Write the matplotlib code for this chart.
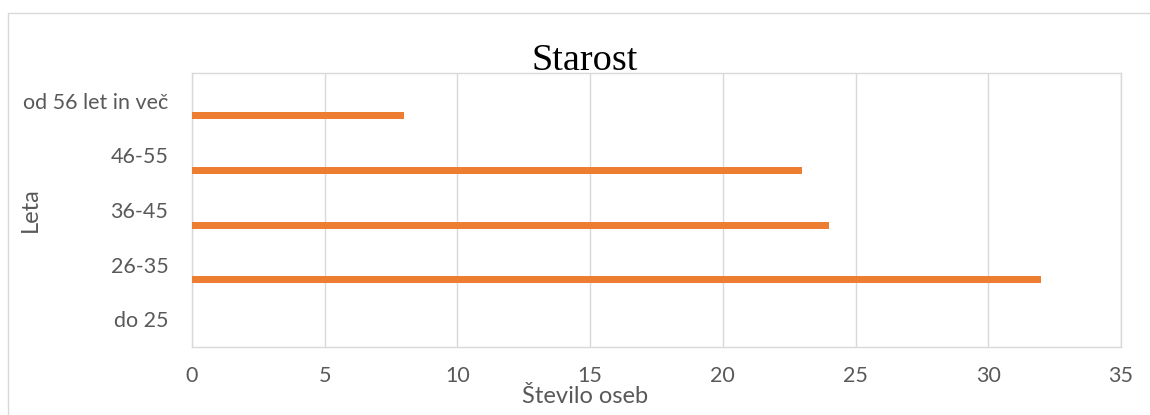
import matplotlib
matplotlib.use('Agg')
import matplotlib.pyplot as plt
import matplotlib.patches as patches
import numpy as np

# Data
categories = ['do 25', '26-35', '36-45', '46-55', 'od 56 let in več']
counts = [0, 32, 24, 23, 8]
xticks = [0, 5, 10, 15, 20, 25, 30, 35]

title = 'Starost'
xlabel = 'Število oseb'
ylabel = 'Leta'

# Colors (Excel defaults)
BAR_COLOR = '#ED7D31'
TEXT_COLOR = '#595959'
GRID_COLOR = '#D9D9D9'

W, H = 1150, 415

fig = plt.figure(figsize=(W / 100, H / 100), dpi=100)
ax = fig.add_axes([192 / W, 68.3 / H, 929 / W, 273.4 / H])

# Bars sit below the category center (second series slot is empty)
ypos = np.arange(len(categories))
ax.barh(ypos - 0.275, counts, height=0.128, color=BAR_COLOR, zorder=3)

ax.set_xlim(0, 35)
ax.set_ylim(-0.5, len(categories) - 0.5)
ax.set_xticks(xticks)
ax.set_yticks(ypos)
ax.set_yticklabels(categories)

ax.grid(axis='x', color=GRID_COLOR, linewidth=1.0, zorder=0)
ax.set_axisbelow(True)
for s in ax.spines.values():
    s.set_color(GRID_COLOR)
    s.set_linewidth(1.0)

ax.tick_params(axis='both', length=0, labelcolor=TEXT_COLOR, labelsize=15.5)
ax.tick_params(axis='y', pad=17)
ax.tick_params(axis='x', pad=14)
for lbl in ax.get_xticklabels() + ax.get_yticklabels():
    lbl.set_fontfamily('Lato')

# Title and axis titles
fig.text(585 / W, (H - 70) / H, title, ha='center', va='baseline',
         fontsize=27.5, fontfamily='Liberation Serif', color='black')
fig.text(585 / W, (H - 403) / H, xlabel, ha='center', va='baseline',
         fontsize=17, fontfamily='Lato', color=TEXT_COLOR)
fig.text(30 / W, (H - 210) / H, ylabel, ha='center', va='center',
         rotation=90, fontsize=17, fontfamily='Lato', color=TEXT_COLOR)

# Chart area border (cropped at right/bottom)
border = patches.Rectangle((8 / W, -0.1), 1.1, (H - 13) / H + 0.1,
                           transform=fig.transFigure, fill=False,
                           edgecolor=GRID_COLOR, linewidth=1.0)
fig.patches.append(border)

fig.savefig('out.png', dpi=100)
plt.close(fig)
